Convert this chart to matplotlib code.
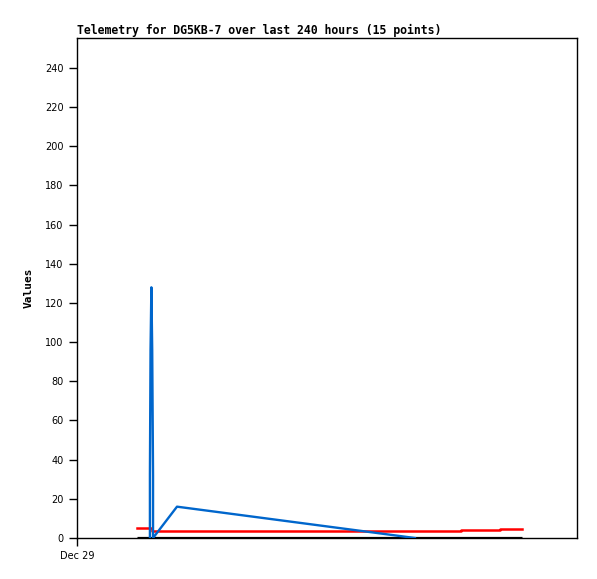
import matplotlib
matplotlib.use("Agg")
import matplotlib.pyplot as plt

# hours since Dec 29 00:00
blue_hours = [35.0, 35.0, 35.3, 35.7, 36.1, 36.5, 36.5, 48.0, 162.2]
blue_vals = [0, 32, 96, 128, 96, 32, 0, 16, 0]

red_hours = [28.8, 36.0, 184.3, 203.0, 213.6]
red_vals = [5.0, 3.7, 4.2, 4.75, 4.75]

black_hours = [28.8, 213.6]
black_vals = [0, 0]

xticks = [0]
xtick_labels = ["Dec 29"]
yticks = list(range(0, 241, 20))

fig = plt.figure(figsize=(5.97, 5.79), dpi=100)
ax = fig.add_axes([77 / 597, 1 - 538 / 579, 500 / 597, 500 / 579])

ax.plot(black_hours, black_vals, color="black", lw=2.3, solid_capstyle="butt", zorder=1)
ax.plot(red_hours, red_vals, color="#ff0000", lw=1.8, drawstyle="steps-post", zorder=2)
ax.plot(blue_hours, blue_vals, color="#0066cc", lw=1.7, zorder=3)

ax.set_xlim(0, 240)
ax.set_ylim(0, 255.3)
ax.set_xticks(xticks)
ax.set_xticklabels(xtick_labels)
ax.set_yticks(yticks)
ax.tick_params(labelsize=7, length=6, width=1, direction="out", colors="black")
for s in ax.spines.values():
    s.set_linewidth(1)

ax.set_ylabel("Values", family="DejaVu Sans Mono", fontweight="bold", fontsize=8, labelpad=8)
ax.set_title("Telemetry for DG5KB-7 over last 240 hours (15 points)",
             family="DejaVu Sans Mono", fontweight="bold", fontsize=8.3, loc="left", pad=3)

fig.savefig("out.png", dpi=100)
